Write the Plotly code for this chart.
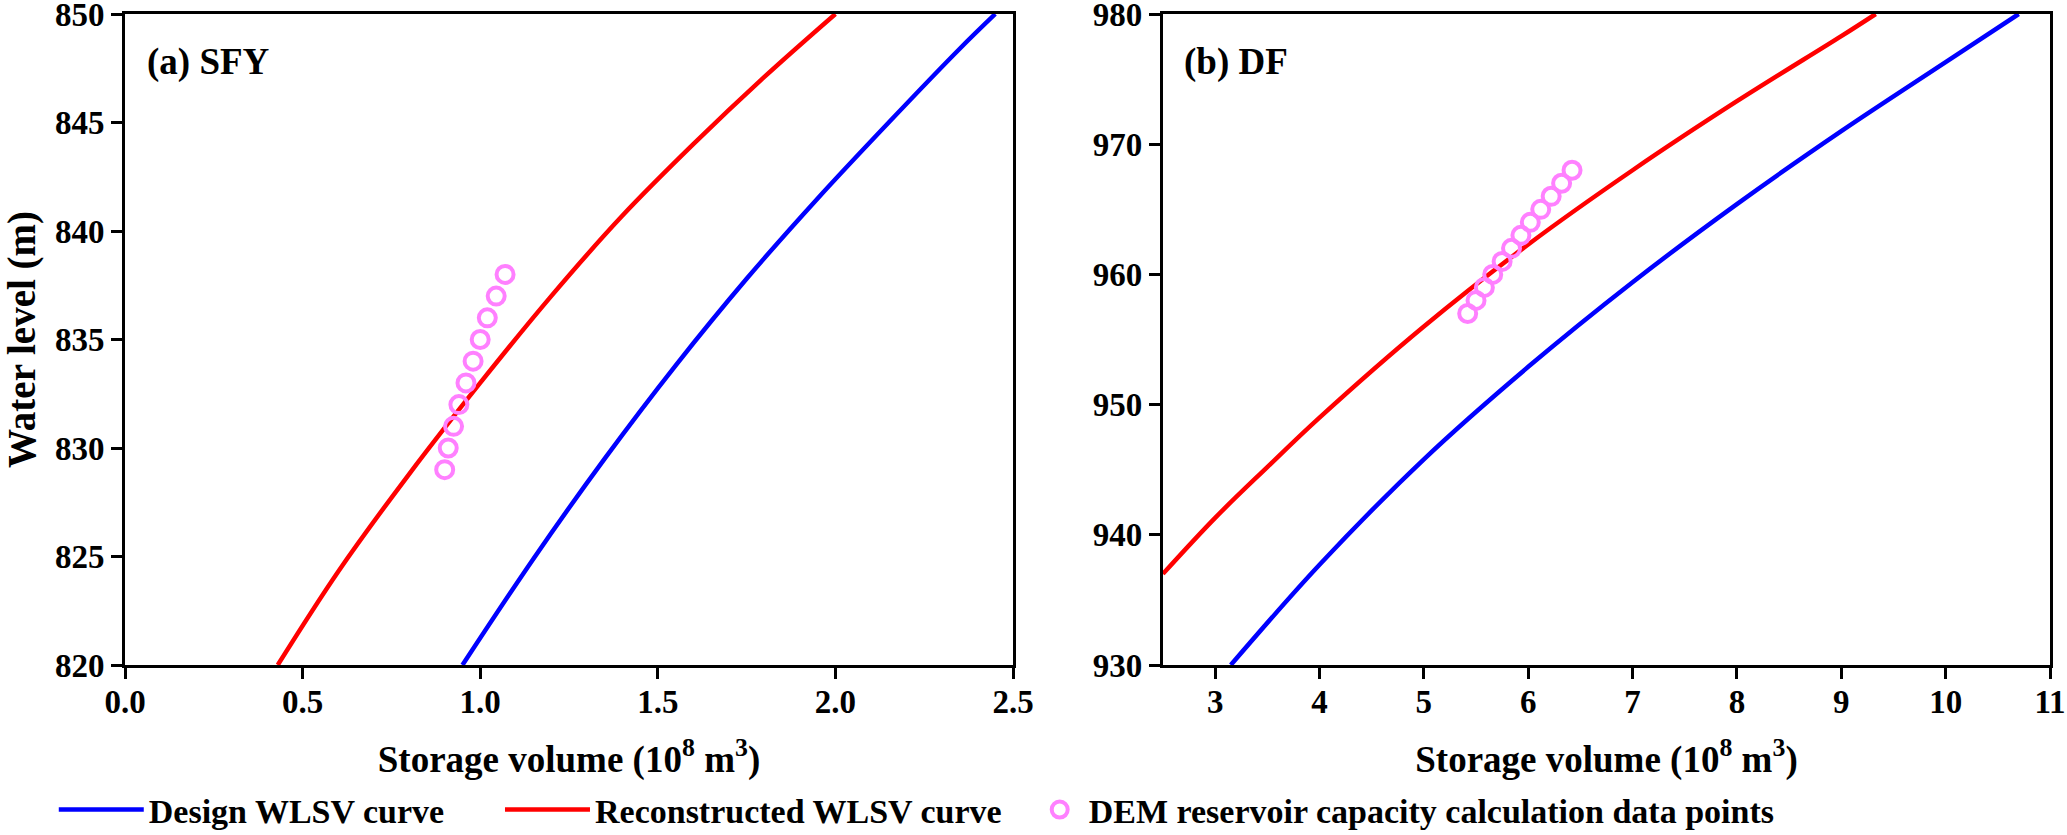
import plotly.graph_objects as go

# (a) SFY reservoir
sfy_design_vol = [0.95, 1.15, 1.35, 1.55, 1.75, 1.95, 2.15, 2.35, 2.45]
sfy_design_lvl = [820, 824.9, 829.5, 833.8, 837.8, 841.5, 845.0, 848.4, 850]
sfy_recon_vol = [0.43, 0.60, 0.80, 1.00, 1.20, 1.40, 1.60, 1.80, 2.00]
sfy_recon_lvl = [820, 824.3, 828.8, 833.0, 837.0, 840.7, 844.0, 847.1, 850]
sfy_dem_vol = [0.90, 0.91, 0.925, 0.94, 0.96, 0.98, 1.00, 1.02, 1.045, 1.07]
sfy_dem_lvl = [829, 830, 831, 832, 833, 834, 835, 836, 837, 838]

# (b) DF reservoir
df_design_vol = [3.15, 4.0, 5.0, 6.0, 7.0, 8.0, 9.0, 10.0, 10.7]
df_design_lvl = [930, 937.7, 945.8, 952.9, 959.4, 965.4, 971.0, 976.3, 980]
df_recon_vol = [2.5, 3.0, 3.5, 4.0, 5.0, 6.0, 7.0, 8.0, 9.0, 9.33]
df_recon_lvl = [937, 941.3, 945.2, 949.0, 956.0, 962.3, 968.0, 973.3, 978.3, 980]
df_dem_vol = [5.42, 5.50, 5.58, 5.66, 5.75, 5.84, 5.93, 6.02, 6.12, 6.22, 6.32, 6.42]
df_dem_lvl = [957, 958, 959, 960, 961, 962, 963, 964, 965, 966, 967, 968]

FONT = "Times New Roman, Liberation Serif, serif"
BLUE = "#0000FF"
RED = "#FF0000"
PINK = "#FF80FF"

fig = go.Figure()

# panel (a)
fig.add_trace(go.Scatter(x=sfy_design_vol, y=sfy_design_lvl, mode="lines", line_shape="spline",
                         line=dict(color=BLUE, width=4.5), name="Design WLSV curve",
                         legend="legend", xaxis="x", yaxis="y"))
fig.add_trace(go.Scatter(x=sfy_recon_vol, y=sfy_recon_lvl, mode="lines", line_shape="spline",
                         line=dict(color=RED, width=4.5), name="Reconstructed WLSV curve",
                         legend="legend2", xaxis="x", yaxis="y"))
fig.add_trace(go.Scatter(x=sfy_dem_vol, y=sfy_dem_lvl, mode="markers",
                         marker=dict(symbol="circle-open", size=17, color=PINK, line=dict(width=4)),
                         name="DEM reservoir capacity calculation data points",
                         legend="legend3", xaxis="x", yaxis="y"))

# panel (b)
fig.add_trace(go.Scatter(x=df_design_vol, y=df_design_lvl, mode="lines", line_shape="spline",
                         line=dict(color=BLUE, width=4.5), showlegend=False,
                         xaxis="x2", yaxis="y2"))
fig.add_trace(go.Scatter(x=df_recon_vol, y=df_recon_lvl, mode="lines", line_shape="spline",
                         line=dict(color=RED, width=4.5), showlegend=False,
                         xaxis="x2", yaxis="y2"))
fig.add_trace(go.Scatter(x=df_dem_vol, y=df_dem_lvl, mode="markers",
                         marker=dict(symbol="circle-open", size=17, color=PINK, line=dict(width=4)),
                         showlegend=False, xaxis="x2", yaxis="y2"))

axis_style = dict(showline=True, linecolor="black", linewidth=3, mirror=True,
                  ticks="outside", ticklen=11, tickwidth=3, tickcolor="black",
                  showgrid=False, zeroline=False, ticklabeloverflow="allow", automargin=False,
                  tickfont=dict(family=FONT, size=33, color="black", weight="bold"))

xtitle = "Storage volume (10<sup>8</sup> m<sup>3</sup>)"
xtitle_font = dict(family=FONT, size=37, color="black", weight="bold")

legend_common = dict(orientation="h", y=-0.2227, xanchor="left", yanchor="middle",
                     font=dict(family=FONT, size=34, weight="bold"),
                     bgcolor="rgba(0,0,0,0)")

fig.update_layout(
    width=2067, height=835,
    margin=dict(l=125, r=17, t=14, b=170, autoexpand=False),
    paper_bgcolor="white", plot_bgcolor="white",
    font=dict(family=FONT, size=34, color="black", weight="bold"),
    xaxis=dict(domain=[0, 0.4613], range=[0, 2.5], dtick=0.5, tickformat=".1f",
               ticklabelstandoff=-6,
               title=dict(text=xtitle, standoff=28, font=xtitle_font), **axis_style),
    yaxis=dict(range=[820, 850], dtick=5,
               title=dict(text="Water level (m)", standoff=30,
                          font=dict(family=FONT, size=39, color="black", weight="bold")),
               **axis_style),
    xaxis2=dict(domain=[0.5392, 1], range=[2.5, 11], tickvals=[3, 4, 5, 6, 7, 8, 9, 10, 11],
                anchor="y2", ticklabelstandoff=-6,
                title=dict(text=xtitle, standoff=28, font=xtitle_font), **axis_style),
    yaxis2=dict(range=[930, 980], dtick=10, anchor="x2", **axis_style),
    legend=dict(x=-0.037, itemwidth=85, **legend_common),
    legend2=dict(x=0.1948, itemwidth=85, **legend_common),
    legend3=dict(x=0.4705, itemwidth=48, **legend_common),
    showlegend=True,
)

fig.add_annotation(text="(a) SFY", xref="x domain", yref="y domain", x=0.022, y=0.926,
                   xanchor="left", yanchor="middle", showarrow=False,
                   font=dict(family=FONT, size=37, weight="bold"))
fig.add_annotation(text="(b) DF", xref="x2 domain", yref="y2 domain", x=0.022, y=0.926,
                   xanchor="left", yanchor="middle", showarrow=False,
                   font=dict(family=FONT, size=37, weight="bold"))

# page body has a default 8px margin; drop it so the figure sits at the window corner
fig.write_html("out.html", config={"displayModeBar": False},
               post_script="document.body.style.margin='0';")
